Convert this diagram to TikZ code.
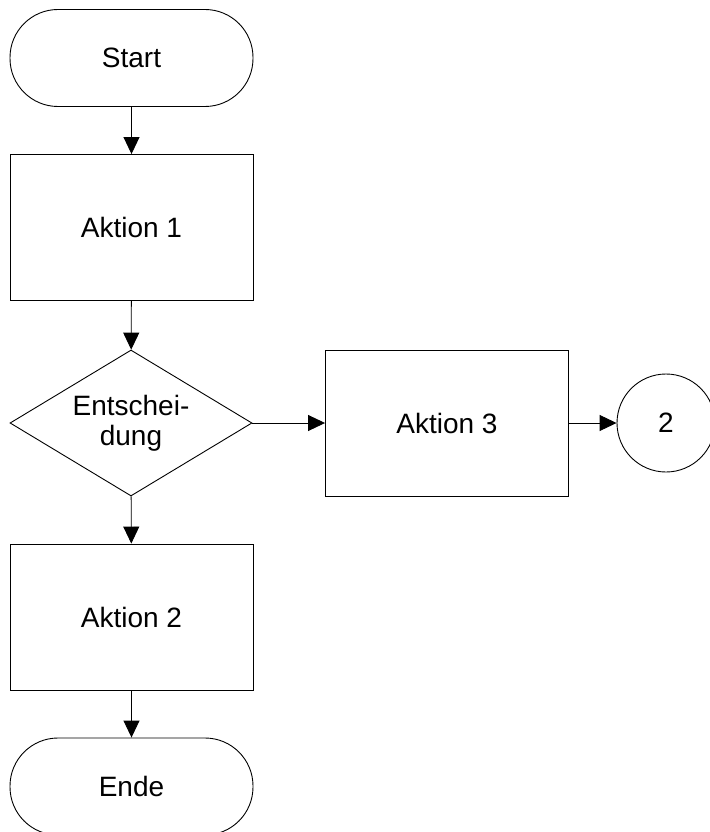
\documentclass[tikz,border=0pt]{standalone}
\usepackage{fontspec}
\setmainfont{Liberation Sans}
\usetikzlibrary{arrows.meta,shapes.geometric}
\begin{document}
\begin{tikzpicture}[x=1pt,y=-1pt,
  base/.style={draw,line width=0.9pt,font=\fontsize{28}{30}\selectfont,inner sep=0pt},
  terminal/.style={base,rectangle,rounded corners=48pt,minimum width=243pt,minimum height=97pt},
  proc/.style={base,rectangle,minimum width=243pt,minimum height=146pt},
  decision/.style={base,diamond,shape aspect=1.66,minimum width=242pt,minimum height=146pt,align=center},
  connector/.style={base,circle,minimum size=98pt},
  flow/.style={line width=0.9pt,-{Triangle[length=17pt,width=16pt]}}]
\useasboundingbox (0,0) rectangle (709,832);
\node[terminal] (start) at (131.5,58) {Start};
\node[proc] (a1) at (131.5,227.5) {Aktion 1};
\node[decision] (dec) at (131,423) {Entschei-\\dung};
\node[proc] (a3) at (447,423) {Aktion 3};
\node[connector] (c2) at (666,423) {2};
\node[proc] (a2) at (131.5,617) {Aktion 2};
\node[terminal] (ende) at (131.5,786.5) {Ende};
\draw[flow] (start) -- (a1);
\draw[flow] (a1) -- (dec);
\draw[flow] (dec) -- (a3);
\draw[flow] (a3) -- (c2);
\draw[flow] (dec) -- (a2);
\draw[flow] (a2) -- (ende);
\end{tikzpicture}
\end{document}
